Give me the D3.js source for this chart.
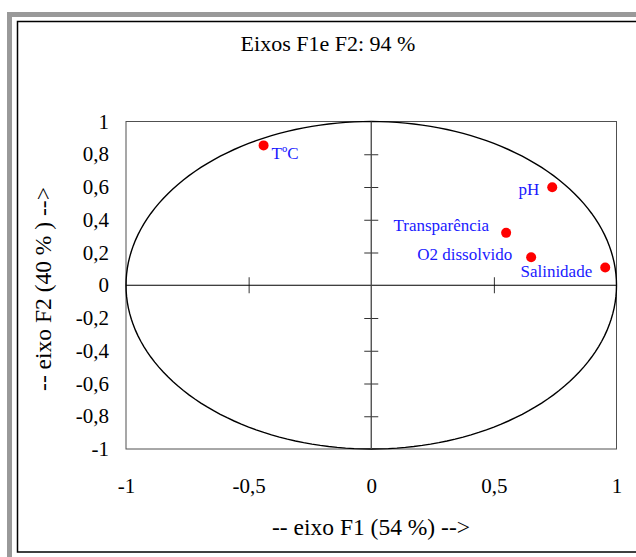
<!DOCTYPE html>
<html>
<head>
<meta charset="utf-8">
<script src="https://cdn.jsdelivr.net/npm/d3@7"></script>
<style>
  html, body { margin: 0; padding: 0; background: #fff; }
  svg { display: block; }
</style>
</head>
<body>
<svg id="chart" width="636" height="557"></svg>
<script>
// ---- data ----
const variables = ["T\u00baC", "pH", "Transpar\u00eancia", "O2 dissolvido", "Salinidade"];
const f1Values = [-0.439, 0.738, 0.550, 0.652, 0.954];
const f2Values = [0.854, 0.598, 0.320, 0.171, 0.108];
const xTickValues = [-1, -0.5, 0, 0.5, 1];
const yTickValues = [-1, -0.8, -0.6, -0.4, -0.2, 0, 0.2, 0.4, 0.6, 0.8, 1];
const titleText = "Eixos F1e F2: 94 %";
const xTitle = "-- eixo F1 (54 %) -->";
const yTitle = "-- eixo F2 (40 % ) -->";

// ---- layout (label placement relative to its point) ----
const labelLayout = [
  { dx: 8, dy: 14, anchor: "start" },
  { dx: -13, dy: 8, anchor: "end" },
  { dx: -17, dy: -2, anchor: "end" },
  { dx: -19, dy: 3, anchor: "end" },
  { dx: -13, dy: 9, anchor: "end" }
];

const FONT = "'Liberation Serif', 'Times New Roman', serif";
const svg = d3.select("#chart");
const fmt = v => String(v).replace(".", ",");

// frames
svg.append("rect").attr("x", 9.5).attr("y", 14.5).attr("width", 700).attr("height", 600)
  .attr("fill", "none").attr("stroke", "#999").attr("stroke-width", 5);
svg.append("rect").attr("x", 17.5).attr("y", 21.5).attr("width", 700).attr("height", 530.5)
  .attr("fill", "#fff").attr("stroke", "#000").attr("stroke-width", 1.5);

const x = d3.scaleLinear().domain([-1, 1]).range([126, 616.5]);
const y = d3.scaleLinear().domain([-1, 1]).range([449, 121.5]);

// plot border
svg.append("rect").attr("x", x(-1)).attr("y", y(1))
  .attr("width", x(1) - x(-1)).attr("height", y(-1) - y(1))
  .attr("fill", "none").attr("stroke", "#505050").attr("stroke-width", 1);

// unit circle (correlation circle)
const angles = d3.range(0, 361, 2).map(a => a * Math.PI / 180);
svg.append("path")
  .datum(angles)
  .attr("d", d3.line().x(a => x(Math.cos(a))).y(a => y(Math.sin(a))))
  .attr("fill", "none").attr("stroke", "#000").attr("stroke-width", 1.4);

// zero axes with ticks
const xAxis = d3.axisBottom(x).tickValues(xTickValues.filter(v => v !== 0 && Math.abs(v) !== 1))
  .tickSize(16).tickFormat("");
const gx = svg.append("g").attr("transform", `translate(0,${y(0) - 8})`).call(xAxis);
gx.select(".domain").remove();
gx.selectAll(".tick line").attr("stroke", "#333");
svg.append("line").attr("x1", x(-1)).attr("x2", x(1)).attr("y1", y(0)).attr("y2", y(0))
  .attr("stroke", "#000").attr("stroke-width", 1.2);

const yAxis = d3.axisLeft(y).tickValues(yTickValues.filter(v => v !== 0 && Math.abs(v) !== 1))
  .tickSize(14).tickFormat("");
const gy = svg.append("g").attr("transform", `translate(${x(0) + 7},0)`).call(yAxis);
gy.select(".domain").remove();
gy.selectAll(".tick line").attr("stroke", "#333");
svg.append("line").attr("x1", x(0)).attr("x2", x(0)).attr("y1", y(-1)).attr("y2", y(1))
  .attr("stroke", "#444").attr("stroke-width", 1.3);

// tick labels
const xLab = d3.axisBottom(x).tickValues(xTickValues).tickSize(0).tickPadding(0).tickFormat(fmt);
const gxl = svg.append("g").attr("transform", `translate(0,${y(-1) + 29})`).call(xLab);
gxl.select(".domain").remove();
gxl.selectAll("text").attr("font-size", 21).style("font-family", FONT).attr("fill", "#000");

const yLab = d3.axisLeft(y).tickValues(yTickValues).tickSize(0).tickPadding(0).tickFormat(fmt);
const gyl = svg.append("g").attr("transform", `translate(${x(-1) - 17},0)`).call(yLab);
gyl.select(".domain").remove();
gyl.selectAll("text").attr("font-size", 21).style("font-family", FONT).attr("fill", "#000");

// titles
svg.append("text").attr("x", 328).attr("y", 51).attr("text-anchor", "middle")
  .attr("font-size", 22).style("font-family", FONT).text(titleText);
svg.append("text").attr("x", 371).attr("y", 535).attr("text-anchor", "middle")
  .attr("font-size", 23.5).style("font-family", FONT).text(xTitle);
svg.append("text").attr("transform", "translate(51,289) rotate(-90)").attr("text-anchor", "middle")
  .attr("font-size", 23.5).style("font-family", FONT).text(yTitle);

// points
const pts = variables.map((name, i) => ({ name, f1: f1Values[i], f2: f2Values[i], lay: labelLayout[i] }));
svg.append("g").selectAll("circle").data(pts).join("circle")
  .attr("cx", d => x(d.f1)).attr("cy", d => y(d.f2)).attr("r", 5)
  .attr("fill", "#ff0000");
svg.append("g").selectAll("text").data(pts).join("text")
  .attr("x", d => x(d.f1) + d.lay.dx).attr("y", d => y(d.f2) + d.lay.dy)
  .attr("text-anchor", d => d.lay.anchor)
  .attr("font-size", 17).style("font-family", FONT).attr("fill", "#1a1aff")
  .text(d => d.name);
</script>
</body>
</html>
